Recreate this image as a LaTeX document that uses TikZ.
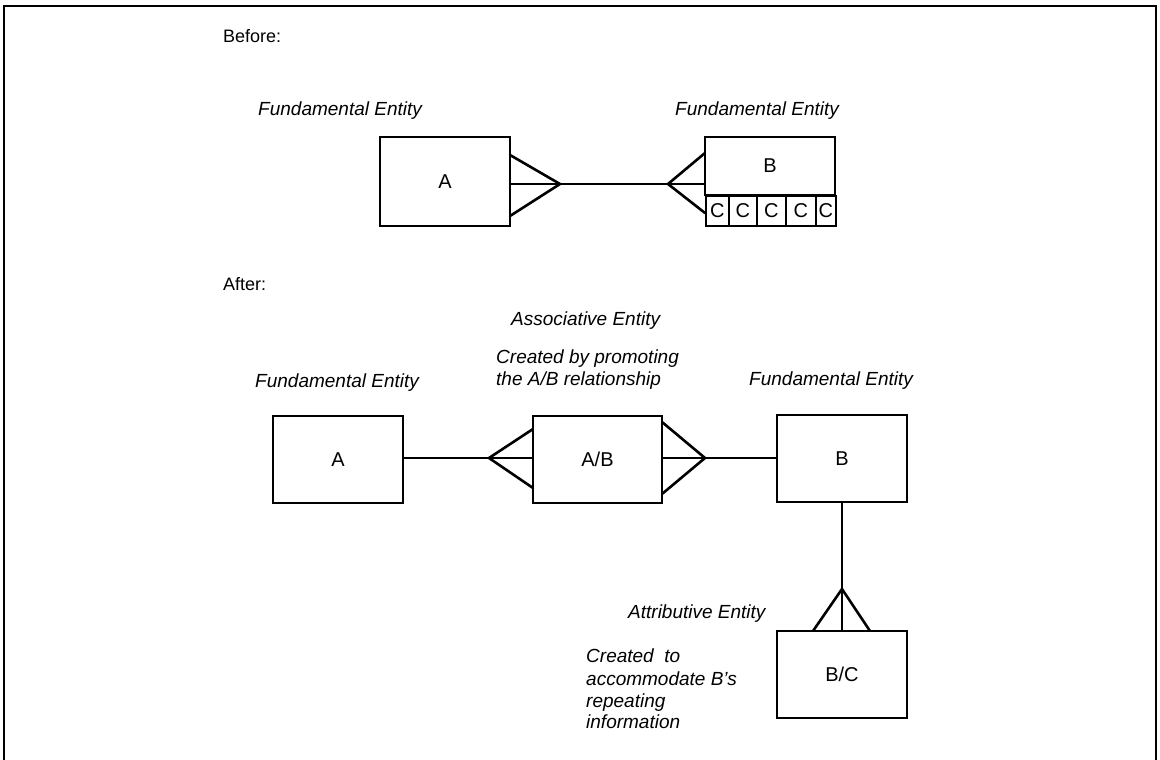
\documentclass[tikz,border=0pt]{standalone}
\usepackage{fontspec}
\setmainfont{Liberation Sans}
\begin{document}
\begin{tikzpicture}[x=1pt,y=-1pt,
  entity/.style={draw, line width=2pt, inner sep=0pt, font=\fontsize{20}{22}\selectfont},
  cell/.style={draw, line width=1.6pt, inner sep=0pt, minimum height=30pt, font=\fontsize{20}{22}\selectfont},
  note/.style={inner sep=0pt, anchor=base west, font=\fontsize{19}{22}\selectfont\itshape},
  heading/.style={inner sep=0pt, anchor=base west, font=\fontsize{18}{22}\selectfont},
  leg/.style={line width=2.6pt, line cap=round},
  link/.style={line width=1.6pt}]
\useasboundingbox (0,0) rectangle (1160,760);

% open frame around the figure
\draw[line width=1.5pt] (4,760) -- (4,6) -- (1156,6) -- (1156,760);

% ---------------- Before ----------------
\node[heading] (before) at (223,43) {Before:};
\node[note] (fe1) at (258,115) {Fundamental Entity};
\node[note] (fe2) at (675,115) {Fundamental Entity};

\node[entity, minimum width=130pt, minimum height=89pt] (a1) at (445,181.5) {A};
\node[entity, minimum width=130pt, minimum height=58pt] (b1) at (770,166) {B};

% repeating group C under B
\node[cell, minimum width=23pt, anchor=north west] (c1) at (705,195) {C};
\node[cell, minimum width=28pt, anchor=north west] (c2) at (728,195) {C};
\node[cell, minimum width=29pt, anchor=north west] (c3) at (756,195) {C};
\node[cell, minimum width=30pt, anchor=north west] (c4) at (785,195) {C};
\node[cell, minimum width=20pt, anchor=north west] (c5) at (815,195) {C};

% many-to-many relationship between A and B
\coordinate (t1) at (560,184);
\coordinate (t2) at (668,184);
\coordinate (a1u) at (510,155);
\coordinate (a1d) at (510,216);
\coordinate (b1u) at (705,153);
\coordinate (b1d) at (705,213);
\draw[leg] (a1u) -- (t1) -- (a1d);
\draw[leg] (b1u) -- (t2) -- (b1d);
\draw[link] (a1.east |- t1) -- (t1) -- (t2) -- (b1.west |- t2);

% ---------------- After ----------------
\node[heading] (after) at (223,290) {After:};
\node[note] (assoc) at (511,325) {Associative Entity};
\node[note] (cr1) at (496,363) {Created by promoting};
\node[note] (cr2) at (496,385) {the A/B relationship};
\node[note] (fe3) at (255,387) {Fundamental Entity};
\node[note] (fe4) at (749,385) {Fundamental Entity};
\node[note] (attr) at (628,618) {Attributive Entity};
\node[note] (ac1) at (586,662) {Created\ \ to};
\node[note] (ac2) at (586,685) {accommodate B{\char"27}s};
\node[note] (ac3) at (586,707) {repeating};
\node[note] (ac4) at (586,728) {information};

\node[entity, minimum width=130pt, minimum height=87pt] (a2) at (338,459.5) {A};
\node[entity, minimum width=129pt, minimum height=87pt] (ab) at (597.5,459.5) {A/B};
\node[entity, minimum width=130pt, minimum height=87pt] (b2) at (842,458.5) {B};
\node[entity, minimum width=130pt, minimum height=87pt] (bc) at (842,674.5) {B/C};

% A to A/B
\coordinate (t3) at (489,458);
\coordinate (abl1) at (533,429);
\coordinate (abl2) at (533,488);
\draw[link] (a2.east |- t3) -- (t3) -- (ab.west |- t3);
\draw[leg] (abl1) -- (t3) -- (abl2);

% A/B to B
\coordinate (t4) at (705,458);
\coordinate (abr1) at (662,422);
\coordinate (abr2) at (662,494);
\draw[link] (ab.east |- t4) -- (t4) -- (b2.west |- t4);
\draw[leg] (abr1) -- (t4) -- (abr2);

% B to B/C
\coordinate (t5) at (842,589);
\coordinate (bcl) at (813,631);
\coordinate (bcr) at (870,631);
\draw[link] (b2.south) -- (t5) -- (bc.north);
\draw[leg] (bcl) -- (t5) -- (bcr);
\end{tikzpicture}
\end{document}
